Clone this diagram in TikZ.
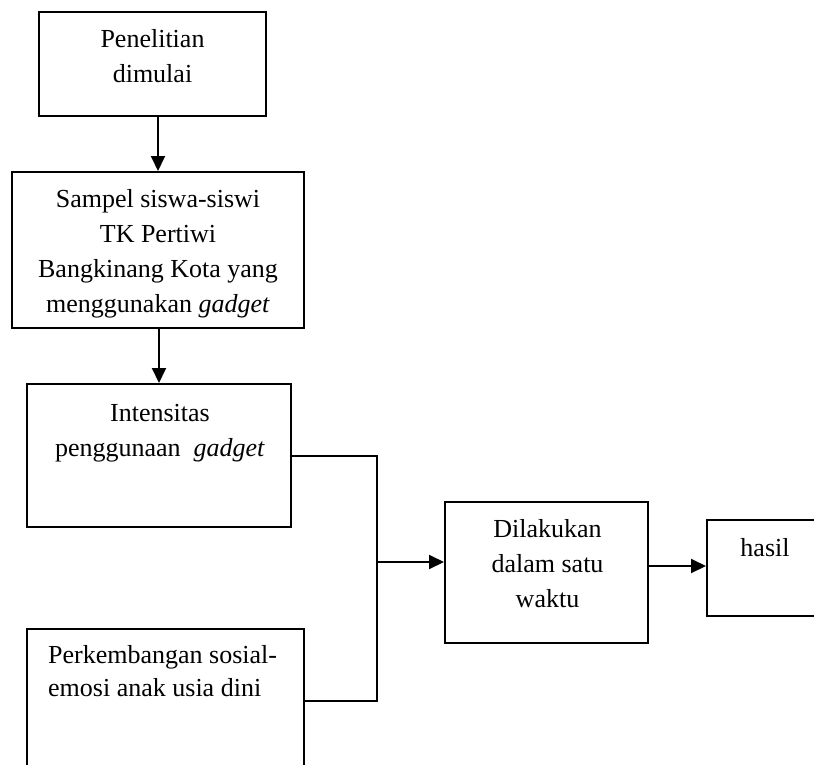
\documentclass[tikz,border=0pt]{standalone}
\usepackage{fontspec}
\setmainfont{Liberation Serif}
\usetikzlibrary{arrows.meta}
\tikzset{
  box/.style={draw=black, line width=2bp, rectangle, inner sep=0pt},
  txt/.style={inner sep=0pt, align=center, anchor=north, font=\fontsize{26bp}{35bp}\selectfont},
  conn/.style={line width=2bp},
  arr/.style={line width=2bp, -{Triangle[length=15bp,width=14bp]}}
}
\begin{document}
\begin{tikzpicture}[x=1bp,y=-1bp]
\useasboundingbox (0,0) rectangle (814,765);
% boxes
\node[box, minimum width=227bp, minimum height=104bp] (b1) at (152.5,64) {};
\node[box, minimum width=291bp, minimum height=156bp] (b2) at (158,250) {};
\node[box, minimum width=264bp, minimum height=143bp] (b3) at (159,455.5) {};
\node[box, minimum width=203bp, minimum height=141bp] (b4) at (546.5,572.5) {};
\node[box, minimum width=130bp, minimum height=96bp] (b5) at (772,568) {};
\node[box, minimum width=277bp, minimum height=170bp] (b6) at (165.5,714) {};
% texts
\node[txt] (t1) at (152.5,22.5) {\strut Penelitian\\dimulai};
\node[txt] (t2) at (158,182.5) {\strut Sampel siswa-siswi\\TK Pertiwi\\Bangkinang Kota yang\\menggunakan \textit{gadget}};
\node[txt] (t3) at (160,396.5) {\strut Intensitas\\penggunaan \ \textit{gadget}};
\node[txt] (t4) at (547.5,512.5) {\strut Dilakukan\\dalam satu\\waktu};
\node[txt, anchor=base] (t5) at (765,556) {hasil};
\node[txt, anchor=north west, align=left, font=\fontsize{26bp}{33bp}\selectfont] (t6) at (48,640.5) {\strut Perkembangan sosial-\\emosi anak usia dini};
% junction
\coordinate (j1) at (377,456);
\coordinate (j2) at (377,562);
\coordinate (j3) at (377,701);
% connectors
\draw[arr] (b1.south -| b2.north) -- (b2.north);
\draw[arr] (b2.south -| b3.north) -- (b3.north);
\draw[conn] (b3.east |- j1) -- (j1) -- (j3) -- (b6.east |- j3);
\draw[arr] (j2) -- (b4.west |- j2);
\draw[arr] (b4.east |- 0,566) -- (b5.west |- 0,566);
\end{tikzpicture}
\end{document}
